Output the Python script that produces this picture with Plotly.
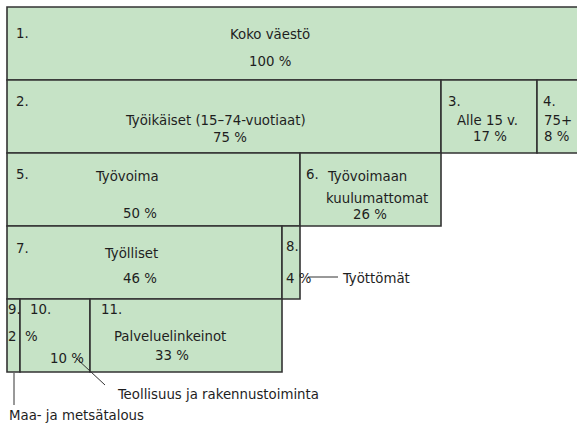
import plotly.graph_objects as go

# ---- data ----
numbers = ["1.", "2.", "3.", "4.", "5.", "6.", "7.", "8.", "9.", "10.", "11."]
names = ["Koko väestö", "Työikäiset (15–74-vuotiaat)", "Alle 15 v.", "75+",
         "Työvoima", "Työvoimaan", "Työlliset", "",
         "", "", "Palveluelinkeinot"]
shares = [100, 75, 17, 8, 50, 26, 46, 4, 2, 10, 33]
callouts = ["Työttömät", "Teollisuus ja rakennustoiminta", "Maa- ja metsätalous"]

# ---- layout of the diagram (page pixel units) ----
rows = [0, 1, 1, 1, 2, 2, 3, 3, 4, 4, 4]
x0 = [7, 7, 441, 537, 7, 300, 7, 282, 7, 20, 90]
x1 = [600, 441, 537, 600, 300, 441, 282, 300, 20, 90, 282]
TOP, ROWH = 7, 73
FILL = "#c6e3c6"
EDGE = "#333333"
FONT = dict(family="Liberation Sans Narrow, DejaVu Sans Condensed, Arial Narrow, sans-serif",
            size=14.8, color="#1e1e1e")

yc = [TOP + ROWH * r + ROWH / 2 for r in rows]
fig = go.Figure()
fig.add_trace(go.Bar(
    orientation="h", y=yc, base=x0, x=[b - a for a, b in zip(x0, x1)],
    width=ROWH, marker=dict(color=FILL, line=dict(color=EDGE, width=1.6)),
    hoverinfo="skip", showlegend=False))

ann = []
def t(x, y, text, anchor="center"):
    ann.append(dict(x=x, y=y, text=text, xanchor=anchor, yanchor="middle",
                    showarrow=False, font=FONT, xref="x", yref="y"))

# numbers
numpos = [(14, 32), (14, 100), (446, 100), (541, 100), (14, 173), (304, 173),
          (14, 247), (284, 245), (6, 308), (28, 308), (99, 308)]
for (x, y), n in zip(numpos, numbers):
    t(x, y, n, "left")

# names + shares
t(270, 33, names[0]); t(270, 60, f"{shares[0]} %")
t(215, 119, names[1]); t(230, 136, f"{shares[1]} %")
t(487, 119, names[2]); t(490, 135, f"{shares[2]} %")
t(542, 119, names[3], "left"); t(542, 135, f"{shares[3]} %", "left")
t(127, 175, names[4]); t(140, 212, f"{shares[4]} %")
t(325, 175, names[5], "left"); t(377, 197, "kuulumattomat"); t(370, 213, f"{shares[5]} %")
t(131, 252, names[6]); t(140, 277, f"{shares[6]} %")
t(284, 277, f"{shares[7]} %", "left")
t(6, 335, f"{shares[8]}  %", "left")
t(48, 357, f"{shares[9]} %", "left")
t(170, 335, names[10]); t(172, 354, f"{shares[10]} %")

# callouts
t(340, 277, callouts[0], "left")
t(115, 393, callouts[1], "left")
t(7, 414, callouts[2], "left")

shapes = [
    dict(type="line", x0=308, x1=338, y0=277, y1=277, line=dict(color=EDGE, width=1)),
    dict(type="line", x0=76, x1=105, y0=358, y1=385, line=dict(color=EDGE, width=1)),
    dict(type="line", x0=14, x1=14, y0=373, y1=405, line=dict(color=EDGE, width=1)),
]
for s in shapes:
    s.update(xref="x", yref="y")

fig.update_layout(
    width=577, height=424, margin=dict(l=0, r=0, t=0, b=0),
    paper_bgcolor="white", plot_bgcolor="white",
    xaxis=dict(range=[0, 577], visible=False, fixedrange=True),
    yaxis=dict(range=[424, 0], visible=False, fixedrange=True),
    barmode="overlay", annotations=ann, shapes=shapes,
)
# remove the default 8 px body margin so figure pixels equal page pixels
fig.write_html("out.html", config={"displayModeBar": False},
               post_script="document.body.style.margin='0px';document.body.style.overflow='hidden';")
